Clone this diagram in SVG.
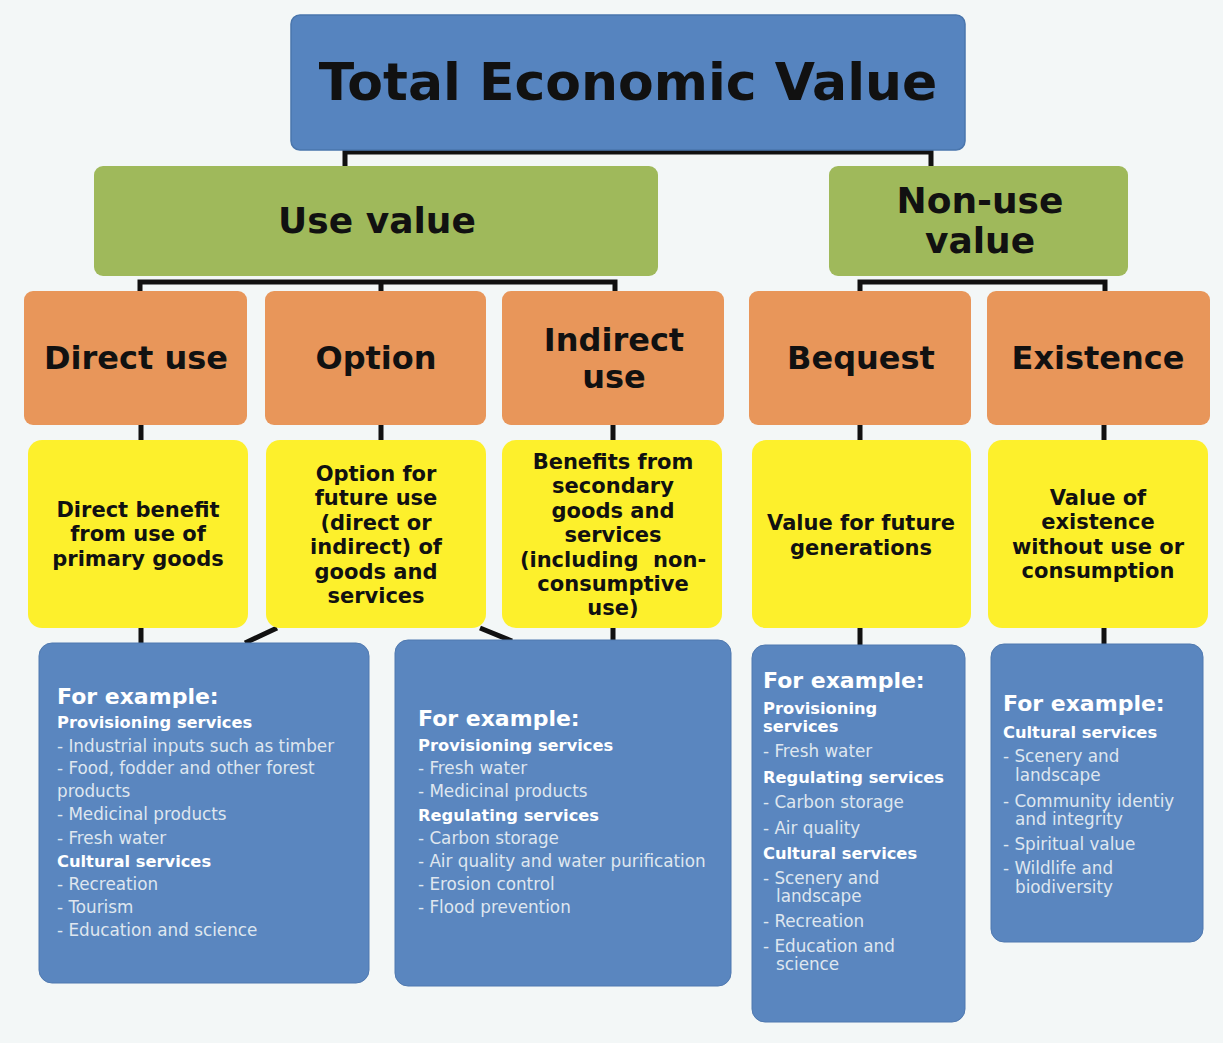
<svg xmlns="http://www.w3.org/2000/svg" width="1223" height="1043" viewBox="0 0 1223 1043">
<style>
.bg{fill:#f3f7f7}
.top{fill:#5684bf;stroke:#4a76ad;stroke-width:1.5}
.green{fill:#9fb95b}
.orange{fill:#e8965a}
.yellow{fill:#fdf02c}
.blue{fill:#5a86bf;stroke:#4f79b0;stroke-width:1}
.t{font-family:"DejaVu Sans","Verdana",sans-serif;font-weight:bold;fill:#111;text-anchor:middle}
.h1{font-size:52px}
.h2{font-size:36px}
.h3{font-size:32px}
.y{font-size:21px}
.ex{font-family:"DejaVu Sans","Verdana",sans-serif;font-weight:bold;font-size:22px;fill:#fff}
.sh{font-family:"DejaVu Sans","Verdana",sans-serif;font-weight:bold;font-size:16.3px;fill:#fff}
.it{font-family:"DejaVu Sans","Verdana",sans-serif;font-size:16.8px;fill:#dfe6ef}
.con{stroke:#111;stroke-width:5;fill:none;stroke-linecap:butt}
</style>
<rect class="bg" x="0" y="0" width="1223" height="1043"/>

<g id="connectors">
<path class="con" d="M345,167 V152 H931 V167"/>
<path class="con" d="M140,292 V282 H615 V292 M381,282 V292"/>
<path class="con" d="M860,292 V282 H1105 V292"/>
<path class="con" d="M141,425 V441 M381,425 V441 M613,425 V441 M860,425 V441 M1104,425 V441"/>
<path class="con" d="M141,628 V645 M613,628 V642 M860,628 V646 M1104,628 V645"/>
<path class="con" d="M277,628 L245,643 M480,628 L512,641"/>
</g>

<g id="total">
<rect class="top" x="291" y="15" width="674" height="135" rx="9"/>
<text class="t h1" x="628" y="100">Total Economic Value</text>
</g>

<g id="use-value">
<rect class="green" x="94" y="166" width="564" height="110" rx="9"/>
<text class="t h2" x="377" y="233">Use value</text>
</g>
<g id="non-use-value">
<rect class="green" x="829" y="166" width="299" height="110" rx="9"/>
<text class="t h2" x="980" y="213">Non-use</text>
<text class="t h2" x="980" y="253">value</text>
</g>

<g id="direct-use">
<rect class="orange" x="24" y="291" width="223" height="134" rx="9"/>
<text class="t h3" x="136" y="369">Direct use</text>
</g>
<g id="option">
<rect class="orange" x="265" y="291" width="221" height="134" rx="9"/>
<text class="t h3" x="376" y="369">Option</text>
</g>
<g id="indirect-use">
<rect class="orange" x="502" y="291" width="222" height="134" rx="9"/>
<text class="t h3" x="614" y="351">Indirect</text>
<text class="t h3" x="614" y="388">use</text>
</g>
<g id="bequest">
<rect class="orange" x="749" y="291" width="222" height="134" rx="9"/>
<text class="t h3" x="861" y="369">Bequest</text>
</g>
<g id="existence">
<rect class="orange" x="987" y="291" width="223" height="134" rx="9"/>
<text class="t h3" x="1098" y="369">Existence</text>
</g>

<g id="direct-desc">
<rect class="yellow" x="28" y="440" width="220" height="188" rx="14"/>
<text class="t y" x="138" y="517">Direct benefit</text>
<text class="t y" x="138" y="541">from use of</text>
<text class="t y" x="138" y="566">primary goods</text>
</g>
<g id="option-desc">
<rect class="yellow" x="266" y="440" width="220" height="188" rx="14"/>
<text class="t y" x="376" y="481">Option for</text>
<text class="t y" x="376" y="505">future use</text>
<text class="t y" x="376" y="530">(direct or</text>
<text class="t y" x="376" y="554">indirect) of</text>
<text class="t y" x="376" y="579">goods and</text>
<text class="t y" x="376" y="603">services</text>
</g>
<g id="indirect-desc">
<rect class="yellow" x="502" y="440" width="220" height="188" rx="14"/>
<text class="t y" x="613" y="469">Benefits from</text>
<text class="t y" x="613" y="493">secondary</text>
<text class="t y" x="613" y="518">goods and</text>
<text class="t y" x="613" y="542">services</text>
<text class="t y" x="613" y="567" xml:space="preserve">(including  non-</text>
<text class="t y" x="613" y="591">consumptive</text>
<text class="t y" x="613" y="615">use)</text>
</g>
<g id="bequest-desc">
<rect class="yellow" x="752" y="440" width="219" height="188" rx="14"/>
<text class="t y" x="861" y="530">Value for future</text>
<text class="t y" x="861" y="555">generations</text>
</g>
<g id="existence-desc">
<rect class="yellow" x="988" y="440" width="220" height="188" rx="14"/>
<text class="t y" x="1098" y="505">Value of</text>
<text class="t y" x="1098" y="529">existence</text>
<text class="t y" x="1098" y="554">without use or</text>
<text class="t y" x="1098" y="578">consumption</text>
</g>

<g id="examples-1">
<rect class="blue" x="39" y="643" width="330" height="340" rx="13"/>
<text class="ex" x="57" y="704">For example:</text>
<text class="sh" x="57" y="728">Provisioning services</text>
<text class="it" x="57" y="752">- Industrial inputs such as timber</text>
<text class="it" x="57" y="774">- Food, fodder and other forest</text>
<text class="it" x="57" y="797">products</text>
<text class="it" x="57" y="820">- Medicinal products</text>
<text class="it" x="57" y="844">- Fresh water</text>
<text class="sh" x="57" y="867">Cultural services</text>
<text class="it" x="57" y="890">- Recreation</text>
<text class="it" x="57" y="913">- Tourism</text>
<text class="it" x="57" y="936">- Education and science</text>
</g>
<g id="examples-2">
<rect class="blue" x="395" y="640" width="336" height="346" rx="13"/>
<text class="ex" x="418" y="726">For example:</text>
<text class="sh" x="418" y="751">Provisioning services</text>
<text class="it" x="418" y="774">- Fresh water</text>
<text class="it" x="418" y="797">- Medicinal products</text>
<text class="sh" x="418" y="821">Regulating services</text>
<text class="it" x="418" y="844">- Carbon storage</text>
<text class="it" x="418" y="867">- Air quality and water purification</text>
<text class="it" x="418" y="890">- Erosion control</text>
<text class="it" x="418" y="913">- Flood prevention</text>
</g>
<g id="examples-3">
<rect class="blue" x="752" y="645" width="213" height="377" rx="13"/>
<text class="ex" x="763" y="688">For example:</text>
<text class="sh" x="763" y="714">Provisioning</text>
<text class="sh" x="763" y="732">services</text>
<text class="it" x="763" y="757">- Fresh water</text>
<text class="sh" x="763" y="783">Regulating services</text>
<text class="it" x="763" y="808">- Carbon storage</text>
<text class="it" x="763" y="834">- Air quality</text>
<text class="sh" x="763" y="859">Cultural services</text>
<text class="it" x="763" y="884">- Scenery and</text>
<text class="it" x="776" y="902">landscape</text>
<text class="it" x="763" y="927">- Recreation</text>
<text class="it" x="763" y="952">- Education and</text>
<text class="it" x="776" y="970">science</text>
</g>
<g id="examples-4">
<rect class="blue" x="991" y="644" width="212" height="298" rx="13"/>
<text class="ex" x="1003" y="711">For example:</text>
<text class="sh" x="1003" y="738">Cultural services</text>
<text class="it" x="1003" y="762">- Scenery and</text>
<text class="it" x="1015" y="781">landscape</text>
<text class="it" x="1003" y="807">- Community identiy</text>
<text class="it" x="1015" y="825">and integrity</text>
<text class="it" x="1003" y="850">- Spiritual value</text>
<text class="it" x="1003" y="874">- Wildlife and</text>
<text class="it" x="1015" y="893">biodiversity</text>
</g>
</svg>
